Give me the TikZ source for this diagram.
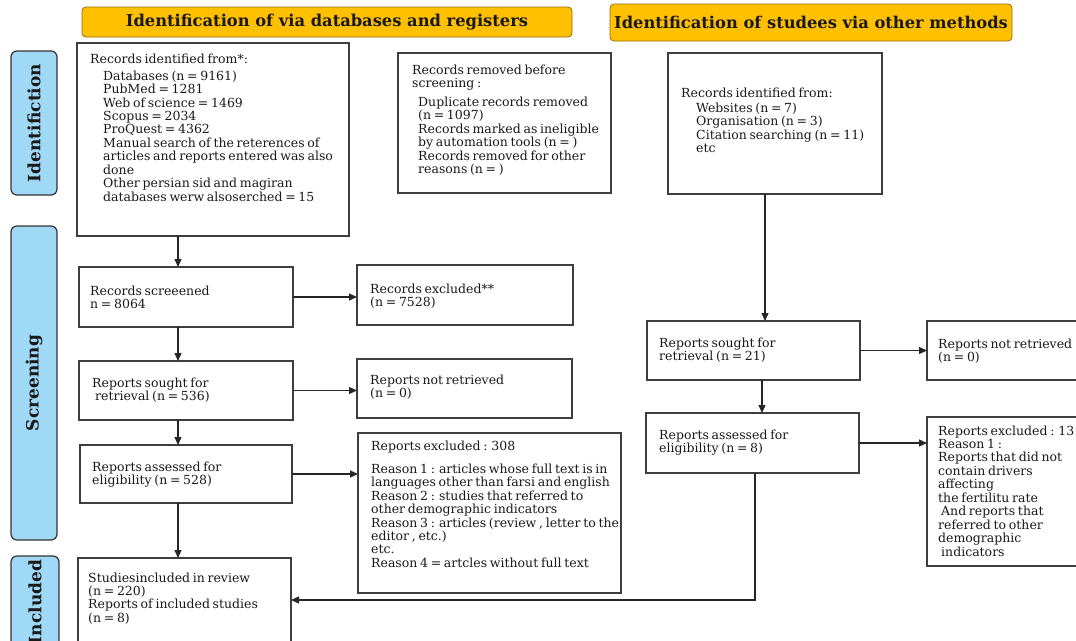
\documentclass[tikz,border=0pt]{standalone}
\usepackage{fontspec}
\setmainfont{DejaVu Serif}
\usetikzlibrary{arrows.meta}
\definecolor{hdrorange}{RGB}{255,192,0}
\definecolor{hdredge}{RGB}{150,110,10}
\definecolor{sideblue}{RGB}{160,217,246}
\definecolor{boxedge}{RGB}{60,62,64}
\definecolor{ink}{RGB}{25,25,25}
\newcommand{\mylines}[1]{\spaceskip=2.7pt plus 1pt minus 0.5pt\relax\begin{tabular}[t]{@{}l@{}}#1\end{tabular}}
\newcommand{\ind}{\hspace*{13pt}}
\tikzset{
  flowbox/.style={draw=boxedge, line width=1.4pt, fill=white, inner sep=0pt, outer sep=0pt, anchor=north west},
  hdrbox/.style={draw=hdredge, line width=0.8pt, fill=hdrorange, rounded corners=4pt, inner sep=0pt,
    font=\fontsize{16.3}{18}\selectfont\bfseries, text=ink},
  sidebox/.style={draw=black!80, line width=1.2pt, fill=sideblue, rounded corners=6pt, inner sep=0pt},
  sidelabel/.style={rotate=90, font=\fontsize{17}{19}\selectfont\bfseries, text=ink, inner sep=0pt},
  bodytext/.style={anchor=base west, inner sep=0pt, text=ink, font=\fontsize{12.5}{13.3}\selectfont},
  arr/.style={-{Triangle[length=8pt,width=7pt]}, line width=1.2pt, draw=black!85},
}
\begin{document}
\begin{tikzpicture}[x=1pt,y=-1pt]
\clip (0,0) rectangle (1076,640);
\fill[white] (0,0) rectangle (1076,640);

% headers
\node[hdrbox, minimum width=490pt, minimum height=30pt] (h1) at (327,22) {Identification of via databases and registers};
\node[hdrbox, minimum width=402pt, minimum height=37pt] (h2) at (811,22.5) {Identification of studees via other methods};

% side labels
\node[sidebox, minimum width=46pt, minimum height=144pt] (s1) at (34,123) {};
\node[sidelabel] (s1t) at (s1.center) {Identifiction};
\node[sidebox, minimum width=46pt, minimum height=314pt] (s2) at (34,383) {};
\node[sidelabel] (s2t) at (s2.center) {Screening};
\node[sidebox, minimum width=48pt, minimum height=92pt] (s3) at (35,602) {};
\node[sidelabel] (s3t) at (s3.center) {Included};

% boxes
\node[flowbox, minimum width=272pt, minimum height=193pt] (A) at (77,43) {};
\node[flowbox, minimum width=213pt, minimum height=140pt] (B) at (398,53) {};
\node[flowbox, minimum width=214pt, minimum height=141pt] (C) at (668,53) {};
\node[flowbox, minimum width=214pt, minimum height=60pt] (D) at (79,267) {};
\node[flowbox, minimum width=216pt, minimum height=60pt] (E) at (357,265) {};
\node[flowbox, minimum width=214pt, minimum height=59pt] (F) at (79,361) {};
\node[flowbox, minimum width=215pt, minimum height=59pt] (G) at (357,359) {};
\node[flowbox, minimum width=212pt, minimum height=58pt] (H) at (80,445) {};
\node[flowbox, minimum width=263pt, minimum height=160pt] (I) at (358,433) {};
\node[flowbox, minimum width=213pt, minimum height=104pt] (J) at (78,558) {};
\node[flowbox, minimum width=213pt, minimum height=59pt] (K) at (647,321) {};
\node[flowbox, minimum width=163pt, minimum height=59pt] (L) at (927,321) {};
\node[flowbox, minimum width=213pt, minimum height=60pt] (M) at (646,413) {};
\node[flowbox, minimum width=163pt, minimum height=149pt] (N) at (927,417) {};

% texts
\node[bodytext] (tA) at (90,63) {\mylines{Records identified from*:\\[3.7pt]
\ind Databases (n = 9161)\\
\ind PubMed = 1281\\
\ind Web of science = 1469\\
\ind Scopus = 2034\\
\ind ProQuest = 4362\\
\ind Manual search of the reterences of\\
\ind articles and reports entered was also\\
\ind done\\
\ind Other persian sid and magiran\\
\ind databases werw alsoserched = 15}};
\node[bodytext] (tB) at (412,74) {\mylines{Records removed before\\
screening :\\[5.7pt]
\hspace*{6pt}Duplicate records removed\\
\hspace*{6pt}(n = 1097)\\
\hspace*{6pt}Records marked as ineligible\\
\hspace*{6pt}by automation tools (n = )\\
\hspace*{6pt}Records removed for other\\
\hspace*{6pt}reasons (n = )}};
\node[bodytext] (tC) at (681,97) {\mylines{Records identified from:\\[1.7pt]
\hspace*{15pt}Websites (n = 7)\\
\hspace*{15pt}Organisation (n = 3)\\
\hspace*{15pt}Citation searching (n = 11)\\
\hspace*{15pt}etc}};
\node[bodytext] (tD) at (90,295) {\mylines{Records screeened\\ n = 8064}};
\node[bodytext] (tE) at (370,293) {\mylines{Records excluded**\\ (n = 7528)}};
\node[bodytext] (tF) at (92,387) {\mylines{Reports sought for\\ \hspace*{3pt}retrieval (n = 536)}};
\node[bodytext] (tG) at (370,384) {\mylines{Reports not retrieved\\ (n = 0)}};
\node[bodytext] (tH) at (92,471) {\mylines{Reports assessed for\\ eligibility (n = 528)}};
\node[bodytext] (tI) at (371,450) {\mylines{Reports excluded : 308\\[9.7pt]
Reason 1 : articles whose full text is in\\
languages other than farsi and english\\
Reason 2 : studies that referred to\\
other demographic indicators\\
Reason 3 : articles (review , letter to the\\
editor , etc.)\\
etc.\\
Reason 4 = artcles without full text}};
\node[bodytext] (tJ) at (88,582) {\mylines{Studiesincluded in review\\ (n = 220)\\ Reports of included studies\\ (n = 8)}};
\node[bodytext] (tK) at (659,347) {\mylines{Reports sought for\\ retrieval (n = 21)}};
\node[bodytext] (tL) at (938,348) {\mylines{Reports not retrieved\\ (n = 0)}};
\node[bodytext] (tM) at (659,439) {\mylines{Reports assessed for\\ eligibility (n = 8)}};
\node[bodytext] (tN) at (938,435) {\mylines{Reports excluded : 13\\
Reason 1 :\\
Reports that did not\\
contain drivers\\
affecting\\
the fertilitu rate\\
\hspace*{3pt}And reports that\\
referred to other\\
demographic\\
\hspace*{3pt}indicators}};

% connector coordinates
\coordinate (colL) at (178,0);
\coordinate (colR) at (765,0);
\coordinate (colR2) at (762,0);
\coordinate (ret) at (755,600);

% connectors
\draw[arr] (colL |- A.south) -- (colL |- D.north);
\draw[arr] (colL |- D.south) -- (colL |- F.north);
\draw[arr] (colL |- F.south) -- (colL |- H.north);
\draw[arr] (colL |- H.south) -- (colL |- J.north);
\draw[arr] (D.east) -- (D.east -| E.west);
\draw[arr] (F.east) -- (F.east -| G.west);
\draw[arr] (H.east) -- (H.east -| I.west);
\draw[arr] (colR |- C.south) -- (colR |- K.north);
\draw[arr] (K.east) -- (K.east -| L.west);
\draw[arr] (colR2 |- K.south) -- (colR2 |- M.north);
\draw[arr] (M.east) -- (M.east -| N.west);
\draw[arr] (ret |- M.south) -- (ret) -- (ret -| J.east);
\end{tikzpicture}
\end{document}
